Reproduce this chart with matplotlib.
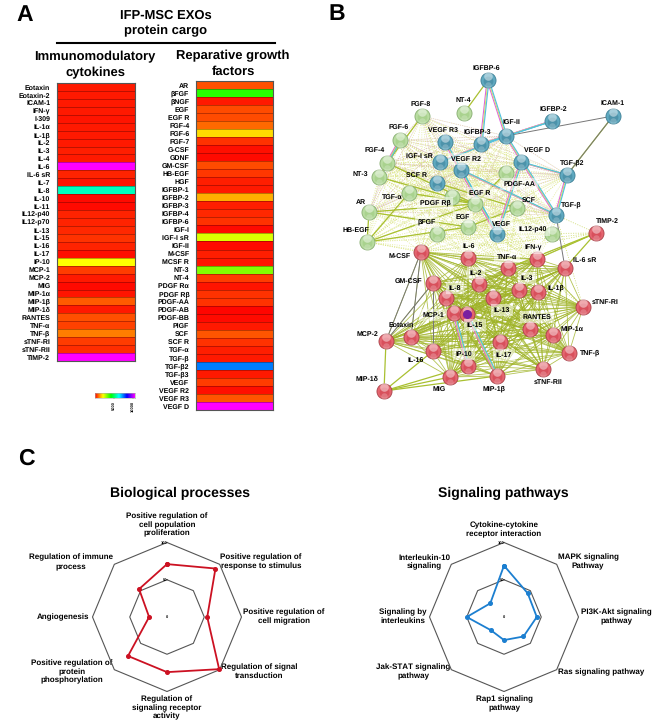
from itertools import combinations
import matplotlib
matplotlib.use('Agg')
import matplotlib.pyplot as plt
from matplotlib.colors import LinearSegmentedColormap
from matplotlib.collections import LineCollection
import numpy as np

plt.rcParams['font.family'] = ['Liberation Sans', 'DejaVu Sans']
plt.rcParams['font.weight'] = 'bold'
plt.rcParams['text.hinting'] = 'no_hinting'
plt.rcParams['text.hinting_factor'] = 1

W, H = 668, 723

# heatmap data
cyto_names = ['Eotaxin', 'Eotaxin-2', 'ICAM-1', 'IFN-γ', 'I-309', 'IL-1α', 'IL-1β', 'IL-2', 'IL-3', 'IL-4',
              'IL-6', 'IL-6 sR', 'IL-7', 'IL-8', 'IL-10', 'IL-11', 'IL12-p40', 'IL12-p70', 'IL-13', 'IL-15',
              'IL-16', 'IL-17', 'IP-10', 'MCP-1', 'MCP-2', 'MIG', 'MIP-1α', 'MIP-1β', 'MIP-1δ', 'RANTES',
              'TNF-α', 'TNF-β', 'sTNF-RI', 'sTNF-RII', 'TIMP-2']
cyto_vals = [200, 200, 230, 200, 170, 230, 230, 230, 260, 230,
             10000, 300, 170, 5500, 100, 100, 300, 300, 330, 400,
             300, 130, 2000, 500, 230, 100, 170, 730, 230, 630,
             530, 1000, 470, 370, 10000]
growth_names = ['AR', 'βFGF', 'βNGF', 'EGF', 'EGF R', 'FGF-4', 'FGF-6', 'FGF-7', 'G-CSF', 'GDNF',
                'GM-CSF', 'HB-EGF', 'HGF', 'IGFBP-1', 'IGFBP-2', 'IGFBP-3', 'IGFBP-4', 'IGFBP-6', 'IGF-I',
                'IGF-I sR', 'IGF-II', 'M-CSF', 'MCSF R', 'NT-3', 'NT-4', 'PDGF Rα', 'PDGF Rβ', 'PDGF-AA',
                'PDGF-AB', 'PDGF-BB', 'PlGF', 'SCF', 'SCF R', 'TGF-α', 'TGF-β', 'TGF-β2', 'TGF-β3', 'VEGF',
                'VEGF R2', 'VEGF R3', 'VEGF D']
growth_vals = [650, 3700, 200, 600, 600, 830, 1730, 400, 130, 100,
               600, 430, 270, 200, 1400, 270, 330, 400, 100,
               2300, 100, 270, 170, 3000, 500, 170, 400, 400,
               70, 100, 200, 670, 400, 270, 230, 7000, 200, 470,
               130, 670, 10000]

# network nodes, picture pixels
blue_nodes = {'IGFBP-6': (488, 80), 'IGFBP-2': (552, 121), 'ICAM-1': (613, 116), 'IGF-II': (506, 136),
              'IGFBP-3': (481, 144), 'VEGF R3': (445, 142), 'IGF-I sR': (440, 162), 'VEGF R2': (461, 170),
              'VEGF D': (521, 162), 'TGF-β2': (567, 175), 'SCF R': (437, 183), 'TGF-β': (556, 215),
              'VEGF': (497, 234)}
green_nodes = {'NT-4': (464, 113), 'FGF-8': (422, 116), 'FGF-6': (400, 140), 'FGF-4': (387, 163),
               'NT-3': (379, 177), 'TGF-α': (409, 193), 'AR': (369, 212), 'PDGF Rβ': (452, 197),
               'EGF R': (475, 204), 'PDGF-AA': (506, 173), 'SCF': (517, 208), 'βFGF': (437, 234),
               'EGF': (468, 227), 'HB-EGF': (367, 242), 'IL12-p40': (552, 234)}
red_nodes = {'M-CSF': (421, 252), 'TIMP-2': (596, 233), 'IL-6': (468, 258), 'IFN-γ': (537, 259),
             'TNF-α': (508, 268), 'IL-6 sR': (565, 268), 'GM-CSF': (433, 283), 'IL-2': (479, 284),
             'IL-3': (519, 290), 'IL-1β': (538, 292), 'IL-8': (446, 298), 'IL-13': (493, 298),
             'sTNF-RI': (583, 307), 'MCP-1': (454, 313), 'IL-15': (467, 314), 'RANTES': (530, 329),
             'MIP-1α': (553, 335), 'Eotaxin': (411, 337), 'MCP-2': (386, 341), 'IL-17': (500, 342),
             'IL-16': (433, 351), 'TNF-β': (569, 353), 'IP-10': (468, 366), 'sTNF-RII': (543, 369),
             'MIG': (450, 377), 'MIP-1β': (497, 376), 'MIP-1δ': (384, 391)}

node_labels = {'IGFBP-6': (486, 68), 'NT-4': (463, 100), 'FGF-8': (421, 104), 'IGFBP-2': (553, 109),
               'ICAM-1': (613, 103), 'FGF-6': (399, 127), 'VEGF R3': (443, 130), 'IGFBP-3': (477, 132),
               'IGF-II': (511, 122), 'FGF-4': (375, 150), 'VEGF D': (537, 150), 'IGF-I sR': (419, 156),
               'VEGF R2': (466, 159), 'TGF-β2': (572, 163), 'NT-3': (360, 174), 'SCF R': (417, 175),
               'PDGF-AA': (519, 184), 'TGF-α': (392, 197), 'EGF R': (480, 193), 'PDGF Rβ': (435, 203),
               'AR': (361, 202), 'SCF': (529, 200), 'TGF-β': (571, 205), 'βFGF': (427, 222),
               'EGF': (463, 217), 'VEGF': (501, 224), 'IL12-p40': (533, 230), 'TIMP-2': (607, 221),
               'HB-EGF': (356, 230), 'M-CSF': (400, 256), 'IL-6': (469, 246), 'IFN-γ': (533, 248),
               'TNF-α': (507, 257), 'IL-6 sR': (585, 260), 'IL-2': (476, 273), 'GM-CSF': (409, 281),
               'IL-3': (527, 278), 'IL-1β': (556, 288), 'IL-8': (455, 288), 'sTNF-RI': (605, 302),
               'IL-13': (502, 310), 'MCP-1': (433, 315), 'RANTES': (537, 317), 'IL-15': (475, 325),
               'Eotaxin': (401, 325), 'MIP-1α': (572, 329), 'MCP-2': (367, 334), 'TNF-β': (590, 353),
               'IP-10': (464, 354), 'IL-17': (504, 355), 'IL-16': (416, 360), 'sTNF-RII': (548, 382),
               'MIP-1δ': (367, 379), 'MIG': (439, 389), 'MIP-1β': (494, 389)}
boxed_labels = ['PDGF Rβ', 'EGF R', 'EGF', 'βFGF', 'VEGF', 'IL12-p40', 'IL-6', 'IFN-γ', 'TNF-α', 'IL-2', 'IL-3',
                'IL-8', 'IL-13', 'RANTES', 'MCP-1', 'IL-15', 'IP-10', 'IL-17', 'PDGF-AA', 'VEGF R2']

# edges that are visible on their own
bundle_edges = [('IGFBP-6', 'IGF-II'), ('IGFBP-6', 'IGFBP-3'), ('IGF-II', 'IGFBP-2'), ('IGFBP-3', 'IGFBP-2'),
                ('IGF-II', 'IGFBP-3'), ('VEGF D', 'TGF-β2'), ('IGF-II', 'TGF-β'), ('TGF-β2', 'TGF-β'),
                ('VEGF R2', 'TGF-β'), ('VEGF R3', 'VEGF'), ('FGF-4', 'FGF-6'), ('IGF-I sR', 'IGF-II'),
                ('IL-15', 'MIP-1β'), ('MCP-1', 'IP-10'), ('VEGF R2', 'VEGF'), ('VEGF D', 'VEGF')]
grey_edges = [('ICAM-1', 'IGF-II'), ('ICAM-1', 'TGF-β2'), ('M-CSF', 'MCP-2'), ('M-CSF', 'Eotaxin'),
              ('GM-CSF', 'MCP-2'), ('GM-CSF', 'IL-16'), ('TGF-β', 'IL-6 sR')]
olive_edges = [('HB-EGF', 'EGF R'), ('HB-EGF', 'EGF'), ('HB-EGF', 'AR'), ('AR', 'EGF R'), ('AR', 'EGF'),
               ('NT-3', 'EGF R'), ('FGF-4', 'EGF R'), ('FGF-8', 'FGF-4'), ('FGF-6', 'NT-3'), ('TGF-α', 'EGF R'),
               ('TGF-α', 'HB-EGF'), ('SCF', 'EGF'), ('SCF R', 'SCF'), ('PDGF Rβ', 'EGF R'), ('PDGF-AA', 'EGF R'),
               ('NT-4', 'IGFBP-6'), ('ICAM-1', 'TGF-β2'), ('TIMP-2', 'IL-6 sR'), ('TIMP-2', 'IFN-γ'),
               ('TIMP-2', 'TNF-α'), ('MIP-1δ', 'MIG'), ('MIP-1δ', 'MIP-1β'), ('MIP-1δ', 'IP-10'),
               ('MIP-1δ', 'IL-16'), ('MIP-1δ', 'MCP-2')]
# proteins densely joined by solid text-mining lines
core_red = ['M-CSF', 'IL-6', 'IFN-γ', 'TNF-α', 'IL-6 sR', 'GM-CSF', 'IL-2', 'IL-3', 'IL-1β', 'IL-8', 'IL-13',
            'sTNF-RI', 'MCP-1', 'IL-15', 'RANTES', 'MIP-1α', 'Eotaxin', 'MCP-2', 'IL-17', 'IL-16', 'TNF-β',
            'IP-10', 'sTNF-RII', 'MIG', 'MIP-1β']
# proteins joined by dotted lines across the top half
core_top = ['FGF-8', 'FGF-6', 'FGF-4', 'NT-3', 'TGF-α', 'AR', 'PDGF Rβ', 'EGF R', 'PDGF-AA', 'SCF', 'βFGF', 'EGF',
            'HB-EGF', 'IL12-p40', 'IGF-II', 'IGFBP-3', 'VEGF R3', 'IGF-I sR', 'VEGF R2', 'VEGF D', 'TGF-β2',
            'SCF R', 'TGF-β', 'VEGF', 'M-CSF', 'IL-6', 'IFN-γ', 'TNF-α']
dotted_pink = ['FGF-8', 'FGF-6', 'FGF-4', 'VEGF R3', 'VEGF R2', 'EGF R', 'AR', 'SCF R', 'TGF-β', 'TGF-β2', 'IGF-II']

# radar data
bio_names = ['Positive regulation of\ncell population\nproliferation', 'Positive regulation of\nresponse to stimulus',
             'Positive regulation of\ncell migration', 'Regulation of signal\ntransduction',
             'Regulation of\nsignaling receptor\nactivity', 'Positive regulation of\nprotein\nphosphorylation',
             'Angiogenesis', 'Regulation of immune\nprocess']
bio_vals = [71, 92, 54, 99, 74, 74, 24, 53]
bio_label_xy = [(167, 525), (261, 562), (284, 617), (259, 672), (167, 708), (72, 672), (63, 617), (71, 562)]
sig_names = ['Cytokine-cytokine\nreceptor interaction', 'MAPK signaling\nPathway', 'PI3K-Akt signaling\npathway',
             'Ras signaling pathway', 'Rap1 signaling\npathway', 'Jak-STAT signaling\npathway',
             'Signaling by\ninterleukins', 'Interleukin-10\nsignaling']
sig_vals = [69, 45, 44, 37, 31, 25, 50, 26]
sig_label_xy = [(504, 530), (588, 562), (616, 617), (601, 672), (504, 704), (413, 672), (403, 617), (424, 562)]

rainbow = LinearSegmentedColormap.from_list(
    'rb', ['#ff0000', '#ffff00', '#00ff00', '#00ffff', '#0000ff', '#ff00ff'])


def px_axes(fig, x0, y0, x1, y1, **kw):
    return fig.add_axes([x0 / W, 1 - y1 / H, (x1 - x0) / W, (y1 - y0) / H], **kw)


def heatmap(fig, box, names, vals):
    ax = px_axes(fig, *box)
    data = np.array(vals, dtype=float).reshape(-1, 1)
    ax.pcolormesh(data, cmap=rainbow, vmin=0, vmax=10000, edgecolors=(0.25, 0, 0, 0.35), linewidth=0.5)
    ax.set_ylim(len(names), 0)
    ax.set_xticks([])
    ax.set_yticks(np.arange(len(names)) + 0.5)
    ax.set_yticklabels(names, fontsize=4.9)
    ax.tick_params(axis='y', length=0, pad=4.5)
    for s in ax.spines.values():
        s.set_color('#555555')
        s.set_linewidth(0.8)
    return ax


def radar(fig, cx, cy, r, vals, color):
    ax = px_axes(fig, cx - r, cy - r, cx + r, cy + r, projection='polar')
    ax.set_theta_offset(np.pi / 2)
    ax.set_theta_direction(-1)
    ax.set_rlim(0, 100)
    ax.axis('off')
    ang = 2 * np.pi * np.arange(len(vals)) / len(vals)
    ang_c = np.append(ang, ang[0])
    for level in (50, 100):
        ax.plot(ang_c, [level] * len(ang_c), color='#555555', lw=0.8, clip_on=False)
    ax.plot(ang_c, vals + vals[:1], color=color, lw=1.3, marker='o', ms=2.6, clip_on=False, zorder=5)
    for level, txt in ((0, '0'), (50, '50'), (100, '100')):
        ax.text(0, level, txt, fontsize=3, ha='right' if level else 'center', va='center', clip_on=False)
    return ax


def draw_edges(ax, nodes, edges, color, lw, ls='-', alpha=1.0, offset=(0, 0), z=1):
    segs = [[(nodes[a][0] + offset[0], nodes[a][1] + offset[1]),
             (nodes[b][0] + offset[0], nodes[b][1] + offset[1])] for a, b in edges]
    ax.add_collection(LineCollection(segs, colors=color, linewidths=lw, linestyles=ls, alpha=alpha, zorder=z))


def draw_nodes(ax, nodes, base, rim, glyph):
    xy = np.array(list(nodes.values()), dtype=float)
    ax.scatter(xy[:, 0], xy[:, 1], s=118, color=base, edgecolors=rim, linewidths=0.6, zorder=5)
    ax.scatter(xy[:, 0], xy[:, 1] + 1, s=50, color=glyph, alpha=0.55, linewidths=0, zorder=6)
    ax.scatter(xy[:, 0], xy[:, 1] - 4, s=38, color='white', alpha=0.45, linewidths=0, zorder=7)
    ax.scatter(xy[:, 0], xy[:, 1] + 4.5, s=22, color='white', alpha=0.22, linewidths=0, zorder=7)


fig = plt.figure(figsize=(W / 100, H / 100), dpi=100)
bg = fig.add_axes([0, 0, 1, 1])
bg.set_xlim(0, W)
bg.set_ylim(H, 0)
bg.axis('off')

# panel A
for x, y, s in ((25, 15, 'A'), (337, 14, 'B'), (26, 459, 'C')):
    bg.text(x, y, s, fontsize=16.5, ha='center', va='center')
bg.text(166, 23, 'IFP-MSC EXOs\nprotein cargo', fontsize=9.3, ha='center', va='center', linespacing=1.4)
bg.plot([57, 275], [43, 43], color='black', lw=1.5)
bg.text(95, 65, 'Immunomodulatory\ncytokines', fontsize=9.6, ha='center', va='center', linespacing=1.35)
bg.text(233, 64, 'Reparative growth\nfactors', fontsize=9.6, ha='center', va='center', linespacing=1.35)
heatmap(fig, (56.5, 83, 134.5, 361), cyto_names, cyto_vals)
heatmap(fig, (195.5, 81, 273, 410), growth_names, growth_vals)

cb = px_axes(fig, 94.5, 393, 134.5, 398)
cb.imshow(np.linspace(0, 1, 256).reshape(1, -1), cmap=rainbow, aspect='auto', extent=[0, 10500, 0, 1])
cb.set_yticks([])
cb.set_xticks([5000, 10000])
cb.set_xticklabels(['5000', '10000'], rotation=90, fontsize=2.8)
cb.tick_params(axis='x', length=1, width=0.3, pad=1)
for s in cb.spines.values():
    s.set_color('#aaaaaa')
    s.set_linewidth(0.4)

# panel B
nodes = {**blue_nodes, **green_nodes, **red_nodes}
draw_edges(bg, nodes, list(combinations(core_top, 2)), '#d6e270', 0.5, ls=(0, (1.5, 1.8)), alpha=0.7)
draw_edges(bg, nodes, list(combinations(dotted_pink, 2)), '#d98fe0', 0.45, ls=(0, (1.5, 2)), alpha=0.55)
draw_edges(bg, nodes, [(a, 'sTNF-RI') for a in core_top[-6:]] + [('TIMP-2', a) for a in core_top[-6:]],
           '#c8d860', 0.5, ls=(0, (1.5, 2)))
draw_edges(bg, nodes, list(combinations(core_red, 2)), '#a0b428', 0.6, alpha=0.8, z=2)
draw_edges(bg, nodes, olive_edges, '#a9c030', 0.9, z=2)
draw_edges(bg, nodes, grey_edges, '#777777', 0.7, z=2)
for off, col in (((-1, 0), '#e060e0'), ((0, 0), '#d8e070'), ((1, 0), '#50c0e0')):
    draw_edges(bg, nodes, bundle_edges, col, 0.8, offset=off, z=3)
draw_nodes(bg, blue_nodes, '#5fa9c0', '#3d7f95', '#3f8199')
draw_nodes(bg, green_nodes, '#b8dca0', '#86ad70', '#9ecb80')
draw_nodes(bg, red_nodes, '#e4656f', '#a84048', '#cf3f4d')
bg.scatter(*red_nodes['IL-15'], s=30, color='#7a1fa0', zorder=8)
for name, (x, y) in node_labels.items():
    box = dict(fc='white', ec='none', alpha=0.5, pad=2) if name in boxed_labels else None
    bg.text(x, y, name, fontsize=5.2, ha='center', va='center', zorder=9, bbox=box)

# panel C
bg.text(180, 493, 'Biological processes', fontsize=9.8, ha='center', va='center')
bg.text(503, 493, 'Signaling pathways', fontsize=9.8, ha='center', va='center')
radar(fig, 167, 617, 74.5, bio_vals, '#cc1122')
radar(fig, 504, 617, 74.5, sig_vals, '#1c7fd0')
for names, xys in ((bio_names, bio_label_xy), (sig_names, sig_label_xy)):
    for txt, (x, y) in zip(names, xys):
        bg.text(x, y, txt, fontsize=5.6, ha='center', va='center', linespacing=1.2, zorder=10)

plt.savefig('out.png', dpi=100)
plt.close()
